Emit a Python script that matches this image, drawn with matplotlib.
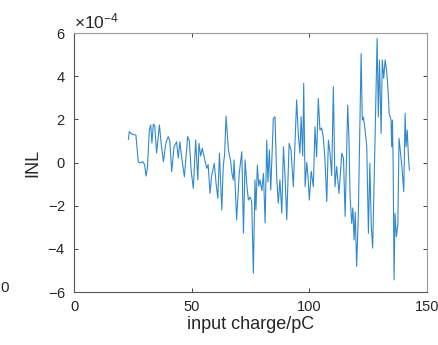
import numpy as np
import matplotlib.pyplot as plt
from matplotlib.ticker import ScalarFormatter

# input charge (pC) and INL (in units of 1e-4)
charge = [23.1, 23.5, 24.5, 26.3, 27.3, 28.0, 29.2, 30.0, 30.6, 31.2, 32.0, 32.6, 33.1, 33.7,
          34.3, 35.1, 36.3, 37.0, 38.0, 39.0, 40.0, 40.7, 41.5, 42.5, 43.6, 44.3, 45.0, 45.7,
          46.9, 48.3, 49.0, 49.8, 50.7, 51.7, 52.6, 53.1, 53.8, 54.5, 55.4, 56.4, 57.0, 57.8,
          58.5, 59.6, 60.3, 61.1, 61.8, 62.8, 63.4, 64.0, 64.6, 65.6, 66.5, 67.1, 67.7, 68.0,
          69.1, 70.2, 71.3, 72.0, 72.7, 73.4, 74.1, 74.8, 75.5, 76.2, 76.9, 77.3, 77.9, 78.5,
          79.0, 79.8, 80.5, 81.2, 81.9, 82.4, 83.0, 83.6, 84.7, 85.4, 86.1, 86.8, 87.5, 88.3,
          89.0, 89.6, 90.4, 91.4, 92.2, 93.2, 94.6, 95.3, 96.0, 96.5, 97.2, 97.6, 98.2, 98.9,
          99.4, 100.0, 100.8, 101.7, 102.4, 103.1, 103.8, 104.5, 105.2, 105.9, 106.6, 107.4,
          108.1, 108.8, 109.5, 110.2, 110.9, 111.6, 112.6, 113.8, 114.5, 115.2, 116.3, 116.8,
          117.3, 118.0, 118.5, 119.0, 119.5, 120.1, 120.8, 122.0, 122.5, 123.0, 123.7, 124.4,
          125.1, 125.7, 126.3, 126.9, 127.8, 128.8, 129.3, 129.8, 130.5, 131.0, 131.6, 132.2,
          132.9, 133.6, 133.9, 134.7, 135.0, 135.3, 135.6, 136.0, 136.4, 137.0, 137.6, 138.1,
          138.7, 139.4, 140.1, 140.7, 141.1, 141.6, 142.1, 142.5]
inl = [1.07, 1.43, 1.32, 1.27, 0.04, -0.02, 0.04, -0.1, -0.63, -0.25, 1.5, 1.74, 0.9, 1.78,
       1.7, 0.44, 1.74, 0.9, 0.04, 0.9, 1.2, 1.0, -0.42, 0.73, 0.96, 0.2, 0.96, 0.27,
       -0.66, 1.2, 1.0, -0.4, -1.2, 1.04, -0.81, 0.89, 0.3, 0.66, 0.2, -0.27, -0.1, -1.43,
       -0.6, -0.04, -0.9, -1.66, 0.43, -2.2, -0.19, 0.4, 2.15, 0.58, 0.1, -0.5, -0.81, 0.12,
       -2.66, -0.5, 0.5, -3.28, 0.12, -1.0, -1.74, -1.6, -1.8, -5.13, -0.81, -2.2, -0.12, -1.1,
       -0.8, -1.3, -0.5, -2.8, 1.04, -0.9, 0.58, -1.27, 2.04, 2.12, -0.6, -1.89, -0.8, -2.35,
       0.73, -0.5, -2.66, 0.89, 0.58, -1.12, 2.9, 1.3, 0.43, 2.12, 0.3, 3.67, -1.12, 0.0,
       -0.6, -1.74, -0.4, -1.12, 1.66, 0.27, 2.97, 1.5, 1.6, 1.2, 0.2, -1.81, 1.04, 0.4,
       -0.6, 3.51, -1.12, -0.19, -1.43, 0.43, 0.2, -2.5, 2.66, 1.2, -1.58, -2.82, -2.1,
       -3.59, -2.3, -4.82, -2.5, 5.05, 1.97, 2.1, 1.5, 0.73, -3.28, -0.04, -2.9, -3.97, 0.5,
       5.75, 2.12, 4.75, 1.35, 4.75, 3.9, 4.75, 4.2, 3.05, 2.28, 1.97, 0.73, 1.97, 0.0,
       -5.44, -2.35, -3.43, -2.9, 1.12, 0.5, -0.3, -1.35, 2.28, 0.73, 1.5, 0.27, -0.35]

x = np.array(charge)
y = np.array(inl) * 1e-4

plt.rcParams['font.family'] = ['Liberation Sans', 'DejaVu Sans']
plt.rcParams['mathtext.fontset'] = 'custom'
plt.rcParams['mathtext.rm'] = 'Liberation Sans'

fig = plt.figure(figsize=(4.39, 3.45), dpi=100)
ax = fig.add_axes([0.1686, 0.1536, 0.8041, 0.7507])

ax.plot(x, y, color='#3189cd', linewidth=0.8)

ax.set_xlim(0, 150)
ax.set_ylim(-6e-4, 6e-4)
ax.set_xticks([0, 50, 100, 150])
ax.set_yticks(np.arange(-6, 7, 2) * 1e-4)

fmt = ScalarFormatter(useMathText=True)
fmt.set_powerlimits((0, 0))
ax.yaxis.set_major_formatter(fmt)
ax.yaxis.get_offset_text().set_fontsize(12.5)
ax.yaxis.get_offset_text().set_color('#262626')

ax.tick_params(direction='in', length=3, width=0.6, labelsize=10.5, colors='#262626',
               top=True, right=True, pad=6)
for s in ['left', 'bottom']:
    ax.spines[s].set_color('#555555')
for s in ['top', 'right']:
    ax.spines[s].set_color('#9a9a9a')
for s in ax.spines.values():
    s.set_linewidth(0.8)

ax.set_xlabel('input charge/pC', fontsize=13, color='#262626', labelpad=1)
ax.set_ylabel('INL', fontsize=13, color='#262626', labelpad=4)

# stray label from the neighbouring panel
fig.text(0.0, 0.155, '0', fontsize=11, color='#262626')

fig.savefig('out.png', dpi=100)
